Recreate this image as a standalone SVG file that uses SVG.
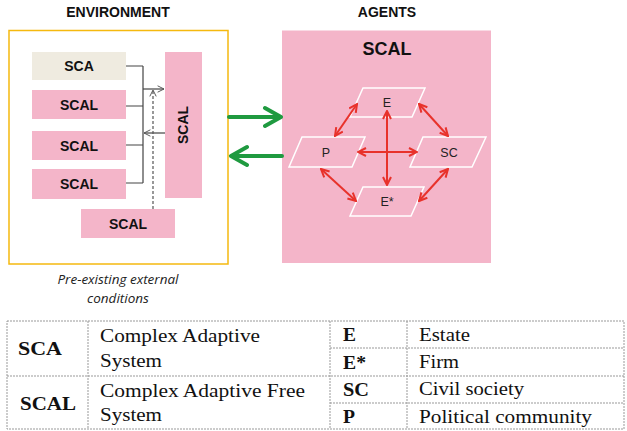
<svg xmlns="http://www.w3.org/2000/svg" width="627" height="431" viewBox="0 0 627 431">
<style>
.hdr{font-family:"Liberation Sans",Arial,sans-serif;font-weight:bold;font-size:14px;fill:#111;text-anchor:middle}
.box{fill:#F4B5C9}
.lbl{font-family:"Liberation Sans",Arial,sans-serif;font-weight:bold;font-size:14px;fill:#111;text-anchor:middle}
.par{fill:none;stroke:#fff;stroke-width:1.5}
.plbl{font-family:"Liberation Sans",Arial,sans-serif;font-size:12.5px;fill:#222;text-anchor:middle}
.red{stroke:#E8322B;stroke-width:2;fill:none;marker-start:url(#rh);marker-end:url(#rh)}
.grn{stroke:#1F9A40;stroke-width:4;fill:none;stroke-linecap:round;stroke-linejoin:round}
.thin{stroke:#444;stroke-width:1.2;fill:none}
.tb{stroke:#999;stroke-width:1;stroke-dasharray:2 1;fill:none}
.tt{font-family:"Liberation Serif","Times New Roman",serif;font-size:18px;fill:#111}
.tbold{font-weight:bold}
.it{font-family:"Open Sans","Liberation Sans",sans-serif;font-style:italic;font-size:13.5px;fill:#222;text-anchor:middle}
</style>
<defs>
<marker id="rh" viewBox="0 0 10 10" refX="9" refY="5" markerWidth="5" markerHeight="5" orient="auto-start-reverse" markerUnits="strokeWidth">
<path d="M1,1 L9,5 L1,9" fill="none" stroke="#E8322B" stroke-width="2"/>
</marker>
<marker id="oh" viewBox="0 0 10 10" refX="9" refY="5" markerWidth="8" markerHeight="8" orient="auto" markerUnits="userSpaceOnUse">
<path d="M1,1 L9,5 L1,9" fill="none" stroke="#555" stroke-width="1.2"/>
</marker>
</defs>
<rect width="627" height="431" fill="#fff"/>

<text class="hdr" x="118" y="17">ENVIRONMENT</text>
<text class="hdr" x="387" y="17">AGENTS</text>

<g id="environment">
<rect x="9" y="30.5" width="219" height="233.5" fill="#fff" stroke="#F5B90F" stroke-width="1.5"/>
</g>
<g id="sca"><rect x="32" y="52" width="94" height="28" fill="#EFEBE0"/><text class="lbl" x="79" y="71">SCA</text></g>
<g id="scal1"><rect class="box" x="32" y="90" width="94" height="29"/><text class="lbl" x="79" y="110">SCAL</text></g>
<g id="scal2"><rect class="box" x="32" y="131" width="94" height="29"/><text class="lbl" x="79" y="151">SCAL</text></g>
<g id="scal3"><rect class="box" x="32" y="169" width="94" height="30"/><text class="lbl" x="79" y="189">SCAL</text></g>
<g id="scal-tall"><rect class="box" x="165" y="52" width="37" height="146"/><text class="lbl" transform="translate(188,125) rotate(-90)" x="0" y="0">SCAL</text></g>
<g id="scal-bottom"><rect class="box" x="81" y="209" width="94" height="29"/><text class="lbl" x="128" y="229">SCAL</text></g>

<text class="it" x="118" y="284">Pre-existing external</text>
<text class="it" x="118" y="303">conditions</text>

<g id="agents">
<rect class="box" x="282" y="30.5" width="209" height="232.5"/>
<text x="387" y="55" font-family="'Liberation Sans',Arial,sans-serif" font-weight="bold" font-size="18" fill="#111" text-anchor="middle">SCAL</text>
</g>
<g id="E"><polygon class="par" points="363,88 425,88 412,117 350,117"/><text class="plbl" x="387" y="107">E</text></g>
<g id="P"><polygon class="par" points="302,137 365,137 352,167 289,167"/><text class="plbl" x="326" y="157">P</text></g>
<g id="SC"><polygon class="par" points="423,137 486,137 472,167 410,167"/><text class="plbl" x="449" y="157">SC</text></g>
<g id="Estar"><polygon class="par" points="363,187 424,187 411,216 350,216"/><text class="plbl" x="387" y="206">E*</text></g>

<g id="connectors">
<path class="thin" d="M126,66 H143 M126,106 H143 M126,145 H143 M126,183 H143 M143,66 V183"/>
<line class="thin" x1="143" y1="89" x2="164" y2="89" marker-end="url(#oh)"/>
<line class="thin" x1="165" y1="133" x2="144" y2="133" marker-end="url(#oh)"/>
<line x1="153" y1="209" x2="153" y2="90" stroke="#555" stroke-width="1.2" stroke-dasharray="3 2" marker-end="url(#oh)"/>
<path class="grn" d="M229,117 H280 M265,108 L281,117 L265,126"/>
<path class="grn" d="M282,156 H232 M247,147 L231,156 L247,165"/>
<line class="red" x1="387" y1="111" x2="387" y2="185"/>
<line class="red" x1="358" y1="152" x2="417" y2="152"/>
<line class="red" x1="357" y1="104" x2="335" y2="136"/>
<line class="red" x1="419" y1="104" x2="448" y2="136"/>
<line class="red" x1="321" y1="169" x2="356" y2="201"/>
<line class="red" x1="448" y1="169" x2="419" y2="201"/>
</g>

<g id="legend">
<rect class="tb" x="7" y="321" width="617" height="108"/>
<path class="tb" d="M7,376 H624 M88,321 V429 M330,321 V429 M407,321 V429 M330,348 H624 M330,403 H624"/>
<text class="tt tbold" x="18" y="355" textLength="44" lengthAdjust="spacingAndGlyphs">SCA</text>
<text class="tt tbold" x="20" y="410" textLength="56" lengthAdjust="spacingAndGlyphs">SCAL</text>
<text class="tt" x="100" y="342" textLength="160" lengthAdjust="spacingAndGlyphs">Complex Adaptive</text>
<text class="tt" x="100" y="367" textLength="62" lengthAdjust="spacingAndGlyphs">System</text>
<text class="tt" x="100" y="397" textLength="205" lengthAdjust="spacingAndGlyphs">Complex Adaptive Free</text>
<text class="tt" x="100" y="421" textLength="62" lengthAdjust="spacingAndGlyphs">System</text>
<text class="tt tbold" x="343" y="341" textLength="13" lengthAdjust="spacingAndGlyphs">E</text>
<text class="tt tbold" x="343" y="369" textLength="23" lengthAdjust="spacingAndGlyphs">E*</text>
<text class="tt tbold" x="343" y="396" textLength="26" lengthAdjust="spacingAndGlyphs">SC</text>
<text class="tt tbold" x="343" y="423" textLength="12" lengthAdjust="spacingAndGlyphs">P</text>
<text class="tt" x="419" y="341" textLength="51" lengthAdjust="spacingAndGlyphs">Estate</text>
<text class="tt" x="419" y="368" textLength="40" lengthAdjust="spacingAndGlyphs">Firm</text>
<text class="tt" x="419" y="395" textLength="105" lengthAdjust="spacingAndGlyphs">Civil society</text>
<text class="tt" x="419" y="423" textLength="173" lengthAdjust="spacingAndGlyphs">Political community</text>
</g>
</svg>
